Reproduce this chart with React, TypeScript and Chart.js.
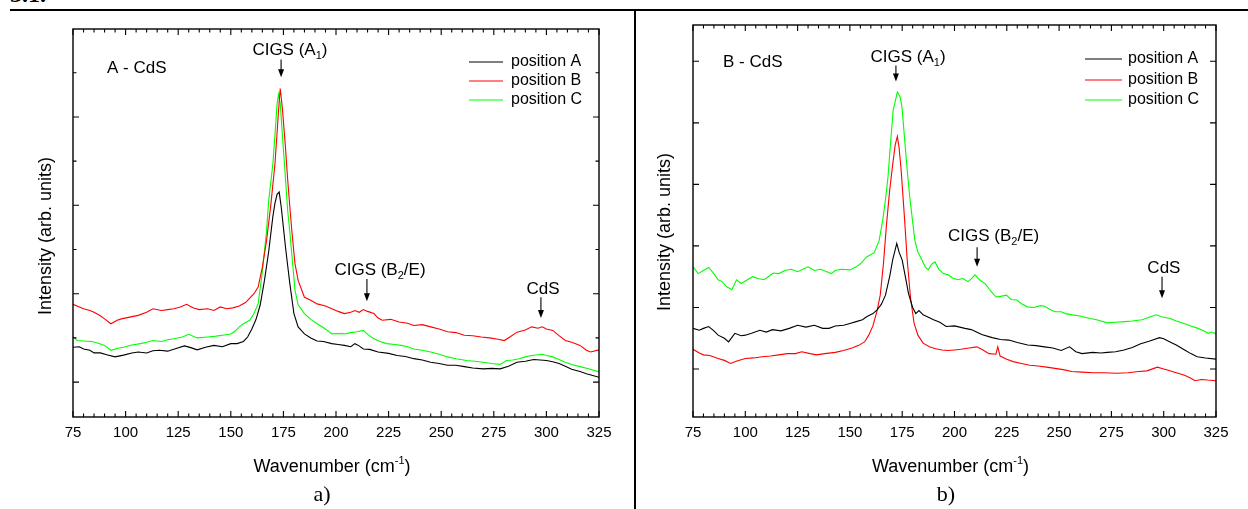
import React, { useEffect, useRef } from "react";
import { Chart, registerables } from "chart.js";

Chart.register(...registerables);

const FONT = '"Liberation Sans", Arial, Helvetica, sans-serif';
const SERIF = '"Liberation Serif", "Times New Roman", Times, serif';

const seriesLabels = ["position A", "position B", "position C"];
const seriesColors = ["#000000", "#ff0000", "#00ff00"];
const xTickValues = [75, 100, 125, 150, 175, 200, 225, 250, 275, 300, 325];

// ---------- panel a) A - CdS ----------
const aPosA_x = [75, 78, 80, 83, 85, 88, 91, 95, 99, 103, 106, 110, 113, 116, 120, 124, 128, 131, 134, 138, 142, 146, 150, 153, 156, 158, 160, 162, 164, 166, 168, 170, 171, 172, 173, 174, 175, 176, 177, 178, 180, 182, 185, 188, 191, 194, 198, 201, 204, 207, 209, 211, 213, 216, 220, 225, 229, 233, 237, 241, 245, 249, 253, 257, 261, 265, 270, 274, 278, 282, 286, 290, 294, 297, 300, 303, 306, 309, 312, 316, 319, 322, 325];
const aPosA_y = [0.79, 0.8, 0.75, 0.72, 0.66, 0.66, 0.62, 0.57, 0.61, 0.66, 0.68, 0.66, 0.71, 0.72, 0.7, 0.76, 0.82, 0.78, 0.73, 0.79, 0.83, 0.8, 0.87, 0.87, 0.92, 1.02, 1.2, 1.42, 1.75, 2.3, 2.95, 3.75, 4.05, 4.25, 4.3, 3.95, 3.5, 3.05, 2.65, 2.25, 1.55, 1.25, 1.09, 1.0, 0.93, 0.92, 0.87, 0.85, 0.83, 0.8, 0.87, 0.82, 0.75, 0.74, 0.68, 0.65, 0.6, 0.58, 0.53, 0.5, 0.45, 0.42, 0.38, 0.38, 0.35, 0.32, 0.3, 0.31, 0.3, 0.36, 0.45, 0.47, 0.51, 0.5, 0.49, 0.46, 0.42, 0.36, 0.29, 0.24, 0.19, 0.15, 0.11];

const aPosB_x = [75, 78, 80, 83, 85, 88, 90, 93, 96, 98, 102, 106, 110, 113, 117, 120, 123, 126, 129, 132, 135, 139, 142, 145, 148, 151, 154, 157, 159, 161, 163, 165, 167, 169, 171, 172, 173, 173.5, 174.5, 176, 177, 178, 179, 180.5, 182, 185, 188, 191, 195, 198, 201, 204, 207, 209, 211, 213, 215, 218, 220, 222, 226, 230, 234, 237, 241, 245, 249, 253, 257, 261, 265, 269, 273, 277, 280, 283, 286, 290, 293, 296, 298, 300, 303, 306, 309, 312, 316, 319, 321, 325];
const aPosB_y = [1.76, 1.7, 1.66, 1.62, 1.58, 1.5, 1.43, 1.32, 1.4, 1.43, 1.47, 1.51, 1.58, 1.66, 1.62, 1.64, 1.66, 1.7, 1.76, 1.68, 1.64, 1.66, 1.62, 1.7, 1.66, 1.68, 1.72, 1.8, 1.9, 2.0, 2.15, 2.6, 3.2, 4.0, 4.94, 5.65, 6.35, 6.64, 6.2, 5.3, 4.6, 4.0, 3.43, 2.68, 2.3, 1.92, 1.85, 1.77, 1.72, 1.66, 1.6, 1.55, 1.58, 1.62, 1.58, 1.64, 1.6, 1.55, 1.45, 1.4, 1.42, 1.36, 1.33, 1.28, 1.3, 1.25, 1.2, 1.14, 1.12, 1.06, 1.05, 1.02, 1.0, 0.97, 0.94, 1.03, 1.13, 1.18, 1.25, 1.22, 1.25, 1.2, 1.17, 1.05, 0.94, 0.9, 0.83, 0.72, 0.68, 0.73];

const aPosC_x = [75, 77, 80, 84, 87, 90, 93, 96, 99, 103, 107, 110, 113, 117, 120, 123, 127, 130, 134, 139, 143, 146, 150, 152, 154, 156, 159, 161, 163, 165, 167, 168, 170, 171, 172, 172.7, 173.5, 174.5, 175.5, 177, 178, 179.4, 180.5, 182, 185, 188, 191, 195, 198, 201, 204, 207, 210, 213, 215, 218, 221, 224, 228, 231, 234, 237, 241, 245, 249, 253, 257, 262, 266, 270, 274, 278, 281, 284, 287, 290, 293, 296, 298, 300, 303, 306, 309, 312, 316, 320, 325];
const aPosC_y = [1.03, 0.94, 0.93, 0.92, 0.88, 0.83, 0.72, 0.76, 0.79, 0.84, 0.87, 0.9, 0.94, 0.92, 0.96, 0.98, 1.02, 1.08, 1.0, 1.02, 1.04, 1.06, 1.09, 1.15, 1.25, 1.32, 1.4, 1.55, 1.77, 2.5, 3.43, 4.1, 4.94, 5.6, 6.3, 6.51, 6.3, 5.6, 4.94, 3.9, 3.43, 2.68, 2.08, 1.75, 1.55, 1.42, 1.32, 1.2, 1.09, 1.1, 1.09, 1.12, 1.14, 1.17, 1.08, 0.98, 0.92, 0.87, 0.85, 0.83, 0.8, 0.75, 0.72, 0.68, 0.63, 0.57, 0.53, 0.49, 0.47, 0.45, 0.42, 0.4, 0.49, 0.5, 0.53, 0.57, 0.6, 0.62, 0.63, 0.6, 0.57, 0.51, 0.45, 0.4, 0.35, 0.3, 0.23];

// ---------- panel b) B - CdS ----------
const bPosA_x = [75, 78, 80, 82.5, 85, 87, 90, 92, 95, 98, 100, 103, 107, 110, 113, 117, 121, 125, 129, 133, 137, 140, 143, 147, 150, 153, 156, 158, 161, 163, 165, 167, 169, 170.5, 172.4, 173.5, 175, 176.5, 178, 180, 181.5, 183, 185, 187, 190, 193, 196, 200, 205, 208, 210, 213, 218, 222, 226, 230, 235, 239, 243, 247, 251, 255, 258, 261, 266, 270, 273, 277, 281, 285, 289, 293, 298, 300, 303, 306, 310, 313, 316, 320, 325];
const bPosA_y = [0.66, 0.63, 0.66, 0.69, 0.62, 0.55, 0.5, 0.44, 0.58, 0.54, 0.55, 0.58, 0.63, 0.6, 0.64, 0.62, 0.66, 0.71, 0.68, 0.71, 0.66, 0.66, 0.7, 0.71, 0.74, 0.77, 0.8, 0.85, 0.9, 0.96, 1.05, 1.2, 1.5, 1.78, 2.04, 1.9, 1.77, 1.5, 1.23, 1.0, 0.9, 0.95, 0.88, 0.85, 0.8, 0.76, 0.69, 0.7, 0.66, 0.64, 0.61, 0.56, 0.51, 0.48, 0.47, 0.43, 0.39, 0.38, 0.36, 0.34, 0.3, 0.36, 0.28, 0.25, 0.27, 0.26, 0.27, 0.28, 0.31, 0.35, 0.41, 0.45, 0.51, 0.49, 0.44, 0.39, 0.31, 0.25, 0.2, 0.18, 0.16];

const bPosB_x = [75, 78, 80, 83, 87, 90, 93, 96, 100, 104, 108, 112, 116, 120, 124, 127, 131, 134, 138, 143, 147, 151, 154, 157, 159, 161, 163, 164.5, 166, 167.5, 169, 170.7, 171.7, 172.7, 173.5, 174.5, 176, 177.4, 179, 180.7, 182.5, 185, 188, 191, 194, 197, 200, 203, 207, 210.7, 213, 216.5, 219.8, 220.7, 221.8, 225, 228, 232, 236, 240, 244, 248, 252, 256, 261, 266, 271, 278, 283, 288, 292, 297, 300, 303, 306, 310, 313, 315, 318, 321, 325];
const bPosB_y = [0.32, 0.26, 0.23, 0.22, 0.17, 0.14, 0.09, 0.13, 0.17, 0.18, 0.2, 0.21, 0.23, 0.25, 0.25, 0.28, 0.25, 0.23, 0.25, 0.27, 0.3, 0.34, 0.38, 0.44, 0.55, 0.7, 0.95, 1.2, 1.7, 2.35, 2.9, 3.39, 3.65, 3.78, 3.6, 3.23, 2.5, 1.77, 1.15, 0.74, 0.55, 0.42, 0.36, 0.33, 0.31, 0.3, 0.31, 0.32, 0.34, 0.36, 0.32, 0.25, 0.24, 0.36, 0.21, 0.16, 0.12, 0.09, 0.06, 0.05, 0.03, 0.01, -0.01, -0.04, -0.05, -0.06, -0.06, -0.07, -0.06, -0.04, -0.03, 0.03, 0.0, -0.03, -0.06, -0.1, -0.15, -0.19, -0.17, -0.18, -0.19];

const bPosC_x = [75, 77.5, 80, 82.5, 85, 87, 89, 91, 93.6, 95.8, 98, 101, 103.5, 106, 109, 111, 113.3, 116, 119, 122, 125, 128, 130, 133, 136, 139, 141, 143, 146, 150, 153, 155, 158, 161.6, 164, 165.7, 167, 168.2, 169.5, 170.7, 172.7, 174, 174.9, 176, 177.4, 178.6, 179.9, 181, 182.4, 184, 186, 187.4, 189, 190.7, 192.5, 194.8, 197, 199, 201.5, 204, 206.5, 208.5, 209.8, 212, 214.8, 217, 219.8, 222, 224.8, 227, 229.8, 232, 234.8, 238, 241, 243, 245.5, 248, 251, 253, 256.4, 260, 264.8, 268, 273, 277, 281.4, 285, 289.7, 293, 296.4, 299, 303, 306, 309.7, 313, 316.4, 319, 321.3, 323, 325];
const bPosC_y = [1.66, 1.55, 1.6, 1.65, 1.55, 1.45, 1.42, 1.34, 1.29, 1.45, 1.39, 1.45, 1.5, 1.47, 1.45, 1.5, 1.56, 1.55, 1.6, 1.62, 1.58, 1.63, 1.66, 1.6, 1.62, 1.58, 1.55, 1.6, 1.62, 1.61, 1.66, 1.71, 1.82, 1.89, 2.09, 2.42, 2.75, 3.12, 3.7, 4.21, 4.5, 4.42, 4.26, 3.8, 3.23, 2.8, 2.42, 2.1, 1.91, 1.8, 1.66, 1.61, 1.7, 1.74, 1.62, 1.55, 1.53, 1.48, 1.45, 1.47, 1.42, 1.48, 1.53, 1.45, 1.38, 1.28, 1.17, 1.18, 1.2, 1.13, 1.12, 1.06, 1.01, 1.0, 1.03, 1.02, 0.97, 0.93, 0.93, 0.9, 0.88, 0.86, 0.82, 0.8, 0.75, 0.76, 0.77, 0.78, 0.8, 0.84, 0.88, 0.85, 0.82, 0.78, 0.74, 0.7, 0.66, 0.62, 0.58, 0.6, 0.57];

type Part = { t: string; sub?: boolean; sup?: boolean };
type Ann = { parts: Part[]; textX: number; textY: number; arrowX: number; arrowFrom: number; arrowTo: number };

const annotationsA: Ann[] = [
  { parts: [{ t: "CIGS (A" }, { t: "1", sub: true }, { t: ")" }], textX: 178.1, textY: 7.51, arrowX: 173.9, arrowFrom: 7.3, arrowTo: 6.9 },
  { parts: [{ t: "CIGS (B" }, { t: "2", sub: true }, { t: "/E)" }], textX: 220.9, textY: 2.53, arrowX: 214.7, arrowFrom: 2.33, arrowTo: 1.83 },
  { parts: [{ t: "CdS" }], textX: 298.4, textY: 2.1, arrowX: 297.4, arrowFrom: 1.92, arrowTo: 1.45 },
];
const annotationsB: Ann[] = [
  { parts: [{ t: "CIGS (A" }, { t: "1", sub: true }, { t: ")" }], textX: 177.8, textY: 5.06, arrowX: 172.0, arrowFrom: 4.93, arrowTo: 4.67 },
  { parts: [{ t: "CIGS (B" }, { t: "2", sub: true }, { t: "/E)" }], textX: 218.7, textY: 2.15, arrowX: 210.8, arrowFrom: 1.98, arrowTo: 1.66 },
  { parts: [{ t: "CdS" }], textX: 300.1, textY: 1.64, arrowX: 299.2, arrowFrom: 1.5, arrowTo: 1.15 },
];

const yTitle: Part[] = [{ t: "Intensity (arb. units)" }];
const xTitle: Part[] = [{ t: "Wavenumber (cm" }, { t: "-1", sup: true }, { t: ")" }];

type PanelCfg = {
  left: number; w: number; h: number;
  padTop: number; padRight: number; yWidth: number; xHeight: number;
  yMin: number; yMax: number; yTicks: number[]; yMajorEvery: number;
  sample: string; sampleDx: number; sampleY: number;
  legendX1: number; legendX2: number; legendTX: number; legendRows: number[];
  yTitleDx: number; yTitleY: number;
  ann: Ann[];
  series: { x: number[]; y: number[] }[];
};

const panels: PanelCfg[] = [
  {
    left: 0, w: 632, h: 509, padTop: 29, padRight: 33, yWidth: 73, xHeight: 92,
    yMin: -0.79, yMax: 7.99, yTicks: [0, 1, 2, 3, 4, 5, 6, 7], yMajorEvery: 2,
    sample: "A - CdS", sampleDx: 34, sampleY: 68,
    legendX1: 130, legendX2: 96, legendTX: 88, legendRows: [62, 81, 100],
    yTitleDx: 27, yTitleY: 236,
    ann: annotationsA,
    series: [{ x: aPosA_x, y: aPosA_y }, { x: aPosB_x, y: aPosB_y }, { x: aPosC_x, y: aPosC_y }],
  },
  {
    left: 632, w: 616, h: 509, padTop: 25, padRight: 32, yWidth: 61, xHeight: 92,
    yMin: -0.78, yMax: 5.59, yTicks: [0, 1, 2, 3, 4, 5], yMajorEvery: 1,
    sample: "B - CdS", sampleDx: 30, sampleY: 62,
    legendX1: 131, legendX2: 94, legendTX: 88, legendRows: [59, 80, 100],
    yTitleDx: 28, yTitleY: 232,
    ann: annotationsB,
    series: [{ x: bPosA_x, y: bPosA_y }, { x: bPosB_x, y: bPosB_y }, { x: bPosC_x, y: bPosC_y }],
  },
];

function drawRich(ctx: CanvasRenderingContext2D, parts: Part[], x: number, y: number, size: number, align: "center" | "left") {
  const main = `${size}px ${FONT}`;
  const small = `${Math.round(size * 0.62)}px ${FONT}`;
  let w = 0;
  for (const p of parts) {
    ctx.font = p.sub || p.sup ? small : main;
    w += ctx.measureText(p.t).width;
  }
  let cx = align === "center" ? x - w / 2 : x;
  ctx.textAlign = "left";
  ctx.textBaseline = "middle";
  for (const p of parts) {
    ctx.font = p.sub || p.sup ? small : main;
    const dy = p.sub ? size * 0.32 : p.sup ? -size * 0.33 : 0;
    ctx.fillText(p.t, cx, y + dy);
    cx += ctx.measureText(p.t).width;
  }
}

function makeDecor(cfg: PanelCfg) {
  return {
    id: "decor",
    afterDraw(chart: any) {
      const ctx: CanvasRenderingContext2D = chart.ctx;
      const a = chart.chartArea;
      const xs = chart.scales.x;
      const ys = chart.scales.y;
      ctx.save();
      ctx.strokeStyle = "#000";
      ctx.fillStyle = "#000";
      ctx.lineWidth = 1.4;
      ctx.strokeRect(a.left, a.top, a.right - a.left, a.bottom - a.top);
      // x ticks (inward, top and bottom)
      ctx.lineWidth = 1.1;
      ctx.beginPath();
      for (let v = 75; v <= 325; v += 5) {
        const px = xs.getPixelForValue(v);
        const len = v % 25 === 0 ? 6 : 3.5;
        ctx.moveTo(px, a.bottom);
        ctx.lineTo(px, a.bottom - len);
        ctx.moveTo(px, a.top);
        ctx.lineTo(px, a.top + len);
      }
      for (const v of cfg.yTicks) {
        const py = ys.getPixelForValue(v);
        const len = v % cfg.yMajorEvery === 0 ? 6 : 3.5;
        ctx.moveTo(a.left, py);
        ctx.lineTo(a.left + len, py);
        ctx.moveTo(a.right, py);
        ctx.lineTo(a.right - len, py);
      }
      ctx.stroke();

      // sample label
      ctx.fillStyle = "#000";
      drawRich(ctx, [{ t: cfg.sample }], a.left + cfg.sampleDx, cfg.sampleY, 17, "left");

      // annotations
      for (const an of cfg.ann) {
        drawRich(ctx, an.parts, xs.getPixelForValue(an.textX), ys.getPixelForValue(an.textY), 17, "center");
        const ax = xs.getPixelForValue(an.arrowX);
        const y1 = ys.getPixelForValue(an.arrowFrom);
        const y2 = ys.getPixelForValue(an.arrowTo);
        ctx.lineWidth = 1.1;
        ctx.beginPath();
        ctx.moveTo(ax, y1);
        ctx.lineTo(ax, y2 - 6);
        ctx.stroke();
        ctx.beginPath();
        ctx.moveTo(ax - 3, y2 - 8);
        ctx.lineTo(ax + 3, y2 - 8);
        ctx.lineTo(ax, y2);
        ctx.closePath();
        ctx.fill();
      }

      // legend
      chart.data.datasets.forEach((ds: any, i: number) => {
        const ry = cfg.legendRows[i];
        ctx.strokeStyle = ds.borderColor;
        ctx.lineWidth = 1.2;
        ctx.beginPath();
        ctx.moveTo(a.right - cfg.legendX1, ry);
        ctx.lineTo(a.right - cfg.legendX2, ry);
        ctx.stroke();
        ctx.fillStyle = "#000";
        drawRich(ctx, [{ t: ds.label }], a.right - cfg.legendTX, ry, 16, "left");
      });

      // axis titles
      ctx.fillStyle = "#000";
      drawRich(ctx, xTitle, (a.left + a.right) / 2 - 4, 467, 18, "center");
      ctx.save();
      ctx.translate(a.left - cfg.yTitleDx, cfg.yTitleY);
      ctx.rotate(-Math.PI / 2);
      drawRich(ctx, yTitle, 0, 0, 18, "center");
      ctx.restore();
      ctx.restore();
    },
  };
}

function Panel({ cfg }: { cfg: PanelCfg }) {
  const ref = useRef<HTMLCanvasElement>(null);
  useEffect(() => {
    const chart = new Chart(ref.current!, {
      type: "line",
      data: {
        datasets: cfg.series.map((s, i) => ({
          label: seriesLabels[i],
          data: s.x.map((xv, j) => ({ x: xv, y: s.y[j] })),
          borderColor: seriesColors[i],
          backgroundColor: seriesColors[i],
          borderWidth: 1.1,
          pointRadius: 0,
          tension: 0,
          fill: false,
        })),
      },
      options: {
        animation: false,
        responsive: false,
        devicePixelRatio: 1,
        layout: { padding: { left: 0, top: cfg.padTop, right: cfg.padRight, bottom: 0 } },
        plugins: { legend: { display: false }, tooltip: { enabled: false }, title: { display: false } },
        scales: {
          x: {
            type: "linear",
            min: 75,
            max: 325,
            afterFit: (s: any) => { s.height = cfg.xHeight; },
            afterBuildTicks: (s: any) => { s.ticks = xTickValues.map((v) => ({ value: v })); },
            grid: { display: false, drawTicks: false },
            border: { display: false },
            ticks: { autoSkip: false, maxRotation: 0, minRotation: 0, padding: 7, color: "#000", font: { family: FONT, size: 15 } },
          },
          y: {
            type: "linear",
            min: cfg.yMin,
            max: cfg.yMax,
            afterFit: (s: any) => { s.width = cfg.yWidth; },
            grid: { display: false, drawTicks: false },
            border: { display: false },
            ticks: { display: false },
          },
        },
      } as any,
      plugins: [makeDecor(cfg)],
    });
    return () => chart.destroy();
  }, []);
  return (
    <canvas
      ref={ref}
      width={cfg.w}
      height={cfg.h}
      style={{ position: "absolute", left: cfg.left, top: 0, width: cfg.w, height: cfg.h }}
    />
  );
}

export default function App() {
  return (
    <div style={{ position: "absolute", left: 0, top: 0, width: 1248, height: 509, background: "#fff", overflow: "hidden" }}>
      <div style={{ position: "absolute", left: 10, top: -18, font: `bold 24px ${SERIF}`, lineHeight: "24px", color: "#000" }}>3.1.</div>
      <Panel cfg={panels[0]} />
      <Panel cfg={panels[1]} />
      <div style={{ position: "absolute", left: 10, top: 9, width: 1238, height: 2, background: "#000" }} />
      <div style={{ position: "absolute", left: 634, top: 9, width: 2, height: 500, background: "#000" }} />
      <div style={{ position: "absolute", left: 272, top: 481, width: 100, textAlign: "center", font: `22px ${SERIF}`, lineHeight: "26px", color: "#000" }}>a)</div>
      <div style={{ position: "absolute", left: 896, top: 481, width: 100, textAlign: "center", font: `22px ${SERIF}`, lineHeight: "26px", color: "#000" }}>b)</div>
    </div>
  );
}
